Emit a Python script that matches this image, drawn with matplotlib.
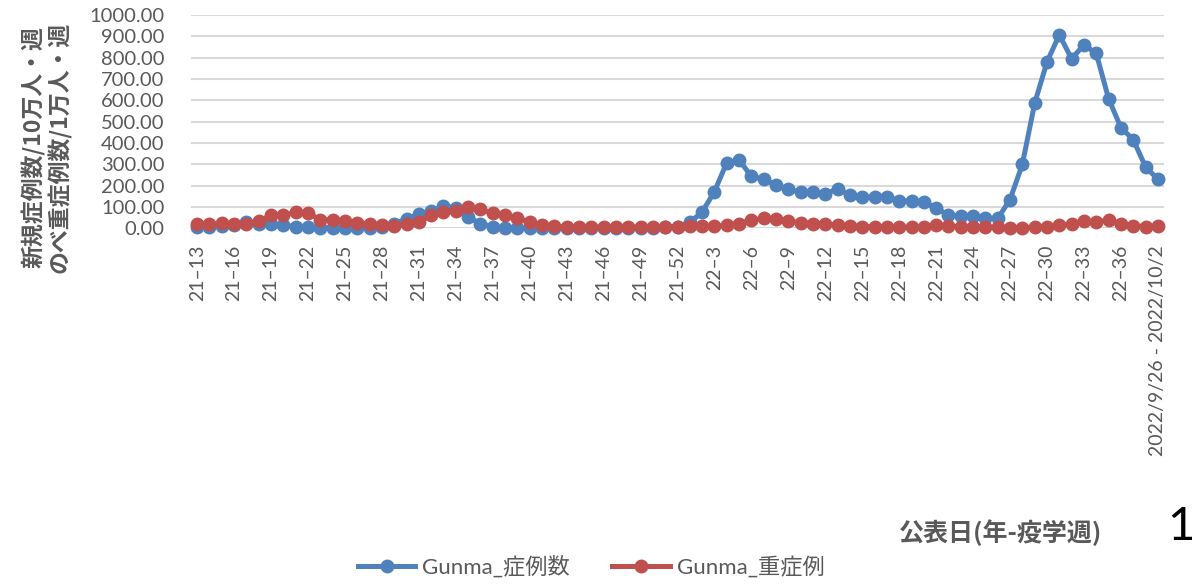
import matplotlib
matplotlib.use("Agg")
import matplotlib.pyplot as plt

plt.rcParams['font.family'] = ['Lato', 'Noto Sans CJK JP', 'DejaVu Sans']

# ---- data ----
weeks_2021 = [f"21–{w}" for w in range(13, 53)]
weeks_2022 = [f"22–{w}" for w in range(1, 39)]
last_label = "2022/9/26 - 2022/10/2"
categories = weeks_2021 + weeks_2022 + [last_label]

gunma_cases = [
    8, 8, 12, 15, 30, 22, 18, 14, 8, 6, 3, 2, 2, 2, 2, 5, 20, 45, 66, 80,
    105, 95, 52, 22, 8, 3, 2, 2, 1, 1, 1, 1, 1, 1, 2, 2, 3, 3, 5, 8,
    28, 76, 172, 308, 320, 244, 230, 202, 182, 171, 171, 161, 186, 155, 147, 148, 147, 128, 128, 124,
    95, 62, 58, 58, 46, 46, 135, 300, 586, 780, 907, 795, 860, 820, 608, 472, 416, 288, 230,
]
gunma_severe = [
    20, 18, 24, 22, 20, 32, 62, 62, 75, 70, 41, 38, 32, 27, 20, 14, 12, 20, 28, 62,
    77, 82, 100, 89, 70, 63, 46, 31, 15, 10, 6, 6, 6, 6, 6, 6, 6, 6, 6, 8,
    10, 10, 10, 14, 22, 38, 46, 42, 32, 27, 22, 20, 15, 11, 8, 8, 8, 5, 5, 5,
    14, 10, 8, 7, 6, 5, 3, 3, 5, 8, 15, 20, 35, 30, 38, 22, 12, 8, 11,
]
series_names = ["Gunma_症例数", "Gunma_重症例"]
y_ticks = [0, 100, 200, 300, 400, 500, 600, 700, 800, 900, 1000]

BLUE = "#4F81BD"
RED = "#C0504D"
GRAY = "#595959"

fig = plt.figure(figsize=(11.96, 5.87), dpi=100)
ax = fig.add_axes([191/1196, 1-228.3/587, (1164-191)/1196, (228.3-15)/587])

x = list(range(len(categories)))
ax.plot(x, gunma_cases, color=BLUE, lw=3.6, marker='o', ms=9, label=series_names[0], zorder=3, clip_on=False)
ax.plot(x, gunma_severe, color=RED, lw=3.6, marker='o', ms=9, label=series_names[1], zorder=4, clip_on=False)

ax.set_xlim(-0.5, len(categories) - 0.5)
ax.set_ylim(0, 1000)
ax.set_yticks(y_ticks)
ax.set_yticklabels([f"{v:.2f}" for v in y_ticks])
ax.yaxis.grid(True, color="#D9D9D9", lw=1.5, zorder=0)
ax.set_axisbelow(True)
for s in ax.spines.values():
    s.set_visible(False)

tick_pos = x[::3]
ax.set_xticks(tick_pos)
ax.set_xticklabels([categories[i] for i in tick_pos], rotation=90)
ax.tick_params(axis='x', length=0, pad=12, labelsize=14, labelcolor=GRAY)
ax.tick_params(axis='y', length=0, pad=19, labelsize=14.5, labelcolor=GRAY)

fig.text(47/1196, 1-147/587, "新規症例数/10万人・週\nのべ重症例数/1万人・週",
         rotation=90, ha='center', va='center', multialignment='center',
         fontsize=16.5, fontweight='bold', color=GRAY, linespacing=1.1,
         family=['Noto Sans CJK JP', 'DejaVu Sans'])

fig.text(1001/1196, 1-533/587, "公表日(年-疫学週)", ha='center', va='center',
         fontsize=18, fontweight='bold', color=GRAY,
         family=['Noto Sans CJK JP', 'DejaVu Sans'])

fig.text(1195/1196, 1-527/587, "1", ha='right', va='center', fontsize=34, color='black')

leg = fig.legend(loc='center', bbox_to_anchor=(591/1196, 1-567/587), ncol=2, frameon=False,
                 fontsize=16, handlelength=2.6, columnspacing=1.9, handletextpad=0.3)
for t in leg.get_texts():
    t.set_color(GRAY)

fig.savefig("out.png", dpi=100)
